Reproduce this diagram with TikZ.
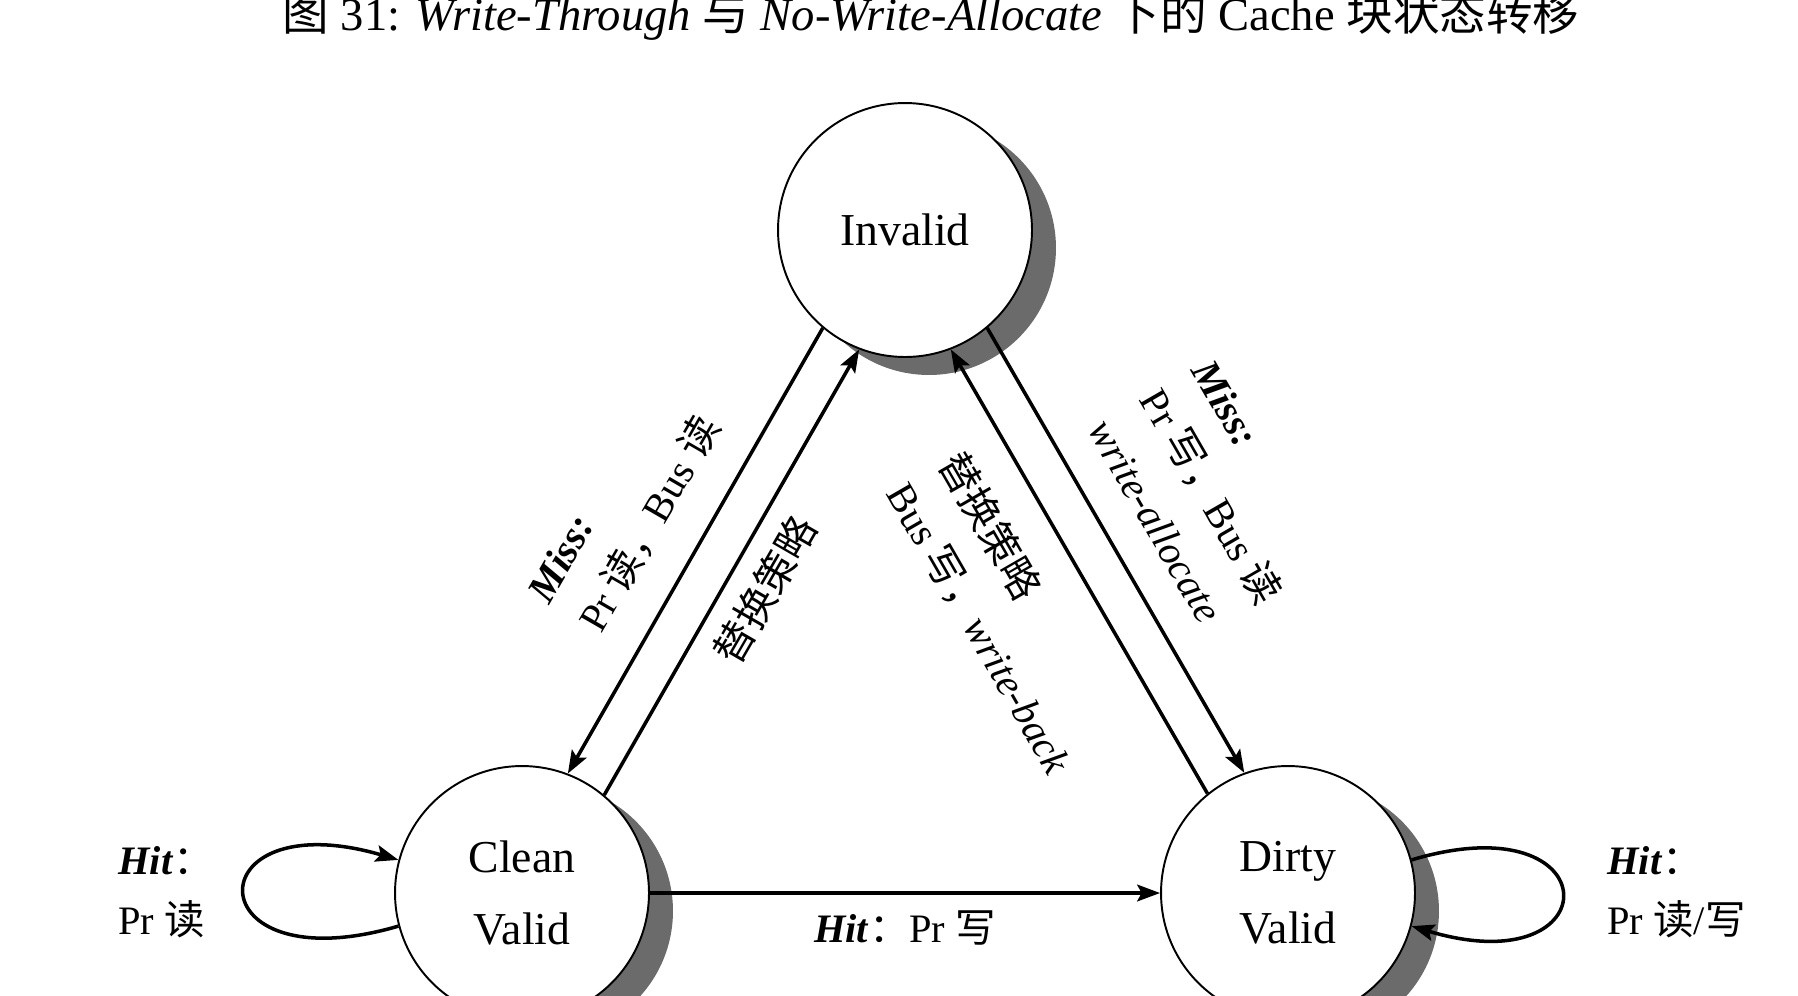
\documentclass[tikz,border=0pt]{standalone}
\usepackage{fontspec}
\setmainfont{Liberation Serif}
\newfontfamily\cjk{Noto Sans CJK SC}
\usepackage{tikz}
\usetikzlibrary{arrows.meta,positioning,shadows}
\definecolor{shade}{HTML}{6B6B6B}
\newcommand{\zh}[1]{{\cjk #1}}

\begin{document}
\begin{tikzpicture}[
  x=0.02cm, y=-0.02cm,
  state/.style={draw, circle, line width=1.1pt, fill=white, minimum size=5.08cm, inner sep=0pt, align=center, font=\fontsize{26}{41}\selectfont,
    drop shadow={shadow xshift=0.48cm, shadow yshift=-0.36cm, fill=shade, opacity=1}},
  lbl/.style={align=left, font=\fontsize{23}{34}\selectfont, inner sep=0pt},
  arr/.style={line width=2pt, -{Stealth[length=13pt,width=9.5pt,inset=2.5pt]}}
]
\useasboundingbox (0,0) rectangle (1798,995);

% Title
\node[anchor=base, font=\fontsize{26.5}{30}\selectfont] (title) at (931,30) {\zh{图} 31: \textit{Write-Through} \zh{与} \textit{No-Write-Allocate} \zh{下的} Cache \zh{块状态转移}};

% States
\node[state] (inv) at (905,230) {Invalid};
\node[state] (cln) at (522,893) {Clean\\Valid};
\node[state] (dty) at (1288,893) {Dirty\\Valid};

% Transitions
\draw[arr] (inv.230.5) -- (cln.69.5);
\draw[arr] (cln.50.5) -- (inv.249.5);
\draw[arr] (inv.-50.5) -- (dty.110.5);
\draw[arr] (dty.129.5) -- (inv.-69.5);
\draw[arr] (cln) -- (dty);
\draw[arr] (cln.195) .. controls +(-205,60) and +(-205,-60) .. (cln.165);
\draw[arr] (dty.15) .. controls +(200,-60) and +(200,60) .. (dty.-15);

% Labels
\node[lbl, rotate=60] (missrd) at (625,510) {\textbf{\textit{Miss:}}\\Pr \zh{读，}Bus \zh{读}};
\node[lbl, rotate=60] (replc) at (765,590) {\zh{替换策略}};
\node[lbl, rotate=-60] (misswr) at (1211,497) {\textbf{\textit{Miss:}}\\Pr \zh{写，}Bus \zh{读}\\\textit{write-allocate}};
\node[lbl, rotate=-60] (wback) at (1006,613) {\zh{替换策略}\\Bus \zh{写，}\textit{write-back}};
\node[lbl] (hitpw) at (905,928) {\textbf{\textit{Hit}}\zh{：}Pr \zh{写}};
\node[lbl, anchor=west] (hitcl) at (118,892) {\textbf{\textit{Hit}}\zh{：}\\Pr \zh{读}};
\node[lbl, anchor=west] (hitdt) at (1607,892) {\textbf{\textit{Hit}}\zh{：}\\Pr \zh{读}/\zh{写}};

\end{tikzpicture}
\end{document}
